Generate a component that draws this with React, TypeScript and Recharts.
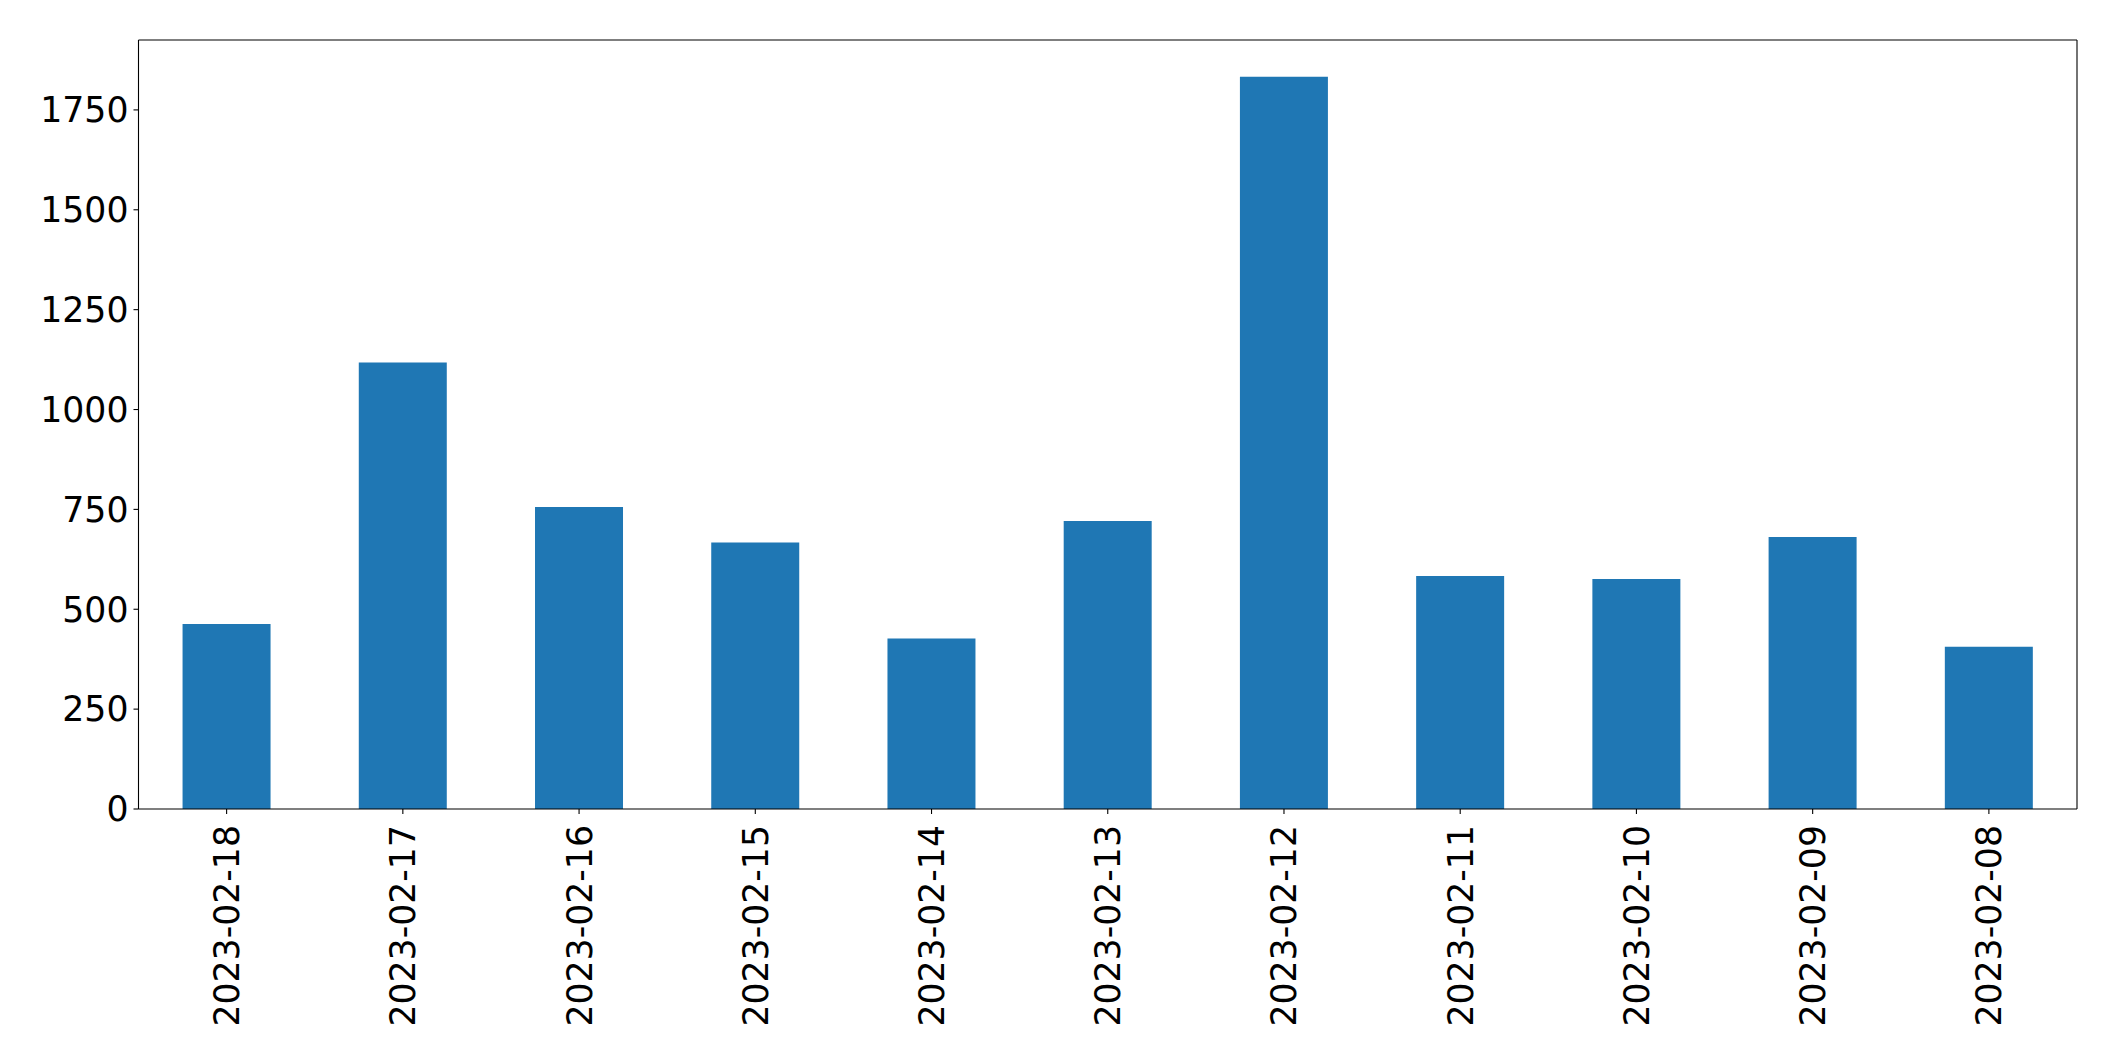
import { BarChart, Bar, XAxis, YAxis } from "recharts";

const dates = [
  "2023-02-18",
  "2023-02-17",
  "2023-02-16",
  "2023-02-15",
  "2023-02-14",
  "2023-02-13",
  "2023-02-12",
  "2023-02-11",
  "2023-02-10",
  "2023-02-09",
  "2023-02-08",
];
const counts = [463, 1118, 756, 667, 427, 721, 1833, 583, 576, 681, 406];
const yTicks = [0, 250, 500, 750, 1000, 1250, 1500, 1750];
const yMax = 1925;

const FONT = "'DejaVu Sans', sans-serif";

const RotatedTick = ({ x, y, payload }: any) => (
  <text
    x={0}
    y={0}
    transform={`translate(${x},${y + 9}) rotate(-90)`}
    textAnchor="end"
    dy="0.36em"
    fontFamily={FONT}
    fontSize={34.7}
    fill="#000"
  >
    {payload.value}
  </text>
);

export default function App() {
  const data = dates.map((d, i) => ({ date: d, count: counts[i] }));

  return (
    <div style={{ position: "absolute", left: 0, top: 0, background: "#fff" }}>
      <BarChart
        width={2115}
        height={1061}
        data={data}
        margin={{ top: 39, right: 37, left: 0, bottom: 0 }}
        barCategoryGap="25%"
      >
        <XAxis
          dataKey="date"
          height={252}
          interval={0}
          tick={<RotatedTick />}
          tickSize={5}
          tickLine={{ stroke: "#000", strokeWidth: 1.1 }}
          axisLine={{ stroke: "#000", strokeWidth: 1.1 }}
        />
        <XAxis
          xAxisId="top"
          orientation="top"
          dataKey="date"
          height={1}
          tick={false}
          tickLine={false}
          axisLine={{ stroke: "#000", strokeWidth: 1.1 }}
        />
        <YAxis
          width={138.5}
          domain={[0, yMax]}
          ticks={yTicks}
          interval={0}
          tickSize={5}
          tickMargin={5}
          tick={{ fontFamily: FONT, fontSize: 34.7, fill: "#000" }}
          tickLine={{ stroke: "#000", strokeWidth: 1.1 }}
          axisLine={{ stroke: "#000", strokeWidth: 1.1 }}
        />
        <YAxis
          yAxisId="right"
          orientation="right"
          width={1}
          domain={[0, yMax]}
          tick={false}
          tickLine={false}
          axisLine={{ stroke: "#000", strokeWidth: 1.1 }}
        />
        <Bar dataKey="count" fill="#1f77b4" isAnimationActive={false} />
      </BarChart>
    </div>
  );
}
